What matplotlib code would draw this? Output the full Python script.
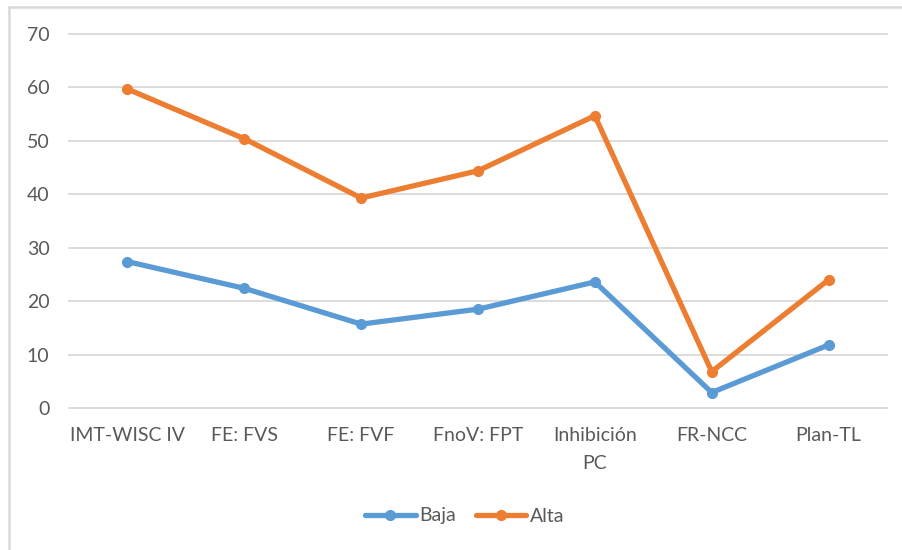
import matplotlib
matplotlib.use("Agg")
import matplotlib.pyplot as plt
from matplotlib.lines import Line2D

categories = ["IMT-WISC IV", "FE: FVS", "FE: FVF", "FnoV: FPT", "Inhibición\nPC", "FR-NCC", "Plan-TL"]
baja = [27.4, 22.4, 15.7, 18.5, 23.6, 2.9, 11.8]
alta = [59.7, 50.4, 39.3, 44.4, 54.7, 6.8, 24.0]
y_ticks = [0, 10, 20, 30, 40, 50, 60, 70]

BLUE = "#5B9BD5"
ORANGE = "#ED7D31"
TEXT = "#595959"

plt.rcParams["font.family"] = ["Lato", "DejaVu Sans"]

fig = plt.figure(figsize=(9.02, 5.5), dpi=100)
ax = fig.add_axes([69 / 902, 1 - 408 / 550, (887 - 69) / 902, (408 - 34) / 550])

x = list(range(len(categories)))
ax.plot(x, baja, color=BLUE, lw=3.8, marker="o", ms=7, label="Baja",
        solid_capstyle="round", zorder=3)
ax.plot(x, alta, color=ORANGE, lw=3.8, marker="o", ms=7, label="Alta",
        solid_capstyle="round", zorder=3)

ax.set_xlim(-0.5, len(categories) - 0.5)
ax.set_ylim(0, 70)
ax.set_yticks(y_ticks)
ax.set_xticks(x)
ax.set_xticklabels(categories, linespacing=1.75)
ax.tick_params(axis="both", length=0, labelsize=14, colors=TEXT)
ax.tick_params(axis="x", pad=14)
ax.tick_params(axis="y", pad=14)
ax.grid(axis="y", color="#D9D9D9", lw=1.3)
for gl in ax.get_ygridlines():
    gl.set_clip_on(False)
ax.set_axisbelow(True)
for s in ax.spines.values():
    s.set_visible(False)

leg = fig.legend(loc="center", bbox_to_anchor=(465 / 902, 1 - 516 / 550), ncol=2,
                 frameon=False, fontsize=14, handlelength=2.6, handletextpad=0.2,
                 columnspacing=1.0)
for t in leg.get_texts():
    t.set_color(TEXT)

# outer chart border
fig.add_artist(Line2D([9 / 902, 9 / 902], [0, 1 - 7 / 550], color="#D9D9D9", lw=1.8))
fig.add_artist(Line2D([9 / 902, 1], [1 - 7 / 550, 1 - 7 / 550], color="#D9D9D9", lw=1.8))

fig.savefig("out.png", dpi=100)
